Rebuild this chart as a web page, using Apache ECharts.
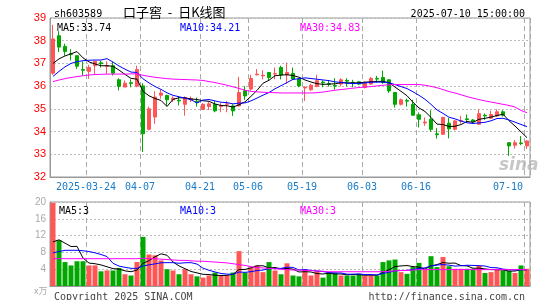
<!DOCTYPE html>
<html><head><meta charset="utf-8">
<script src="https://cdn.jsdelivr.net/npm/echarts/dist/echarts.min.js"></script>
<style>html,body{margin:0;padding:0;background:#fff}#c{width:545px;height:300px}</style>
</head><body><div id="c"></div>
<script>
const dates = ['2025-03-14','2025-03-17','2025-03-18','2025-03-19','2025-03-20','2025-03-21','2025-03-24','2025-03-25','2025-03-26','2025-03-27','2025-03-28','2025-03-31','2025-04-01','2025-04-02','2025-04-03','2025-04-07','2025-04-08','2025-04-09','2025-04-10','2025-04-11','2025-04-14','2025-04-15','2025-04-16','2025-04-17','2025-04-18','2025-04-21','2025-04-22','2025-04-23','2025-04-24','2025-04-25','2025-04-28','2025-04-29','2025-04-30','2025-05-06','2025-05-07','2025-05-08','2025-05-09','2025-05-12','2025-05-13','2025-05-14','2025-05-15','2025-05-16','2025-05-19','2025-05-20','2025-05-21','2025-05-22','2025-05-23','2025-05-26','2025-05-27','2025-05-28','2025-05-29','2025-05-30','2025-06-03','2025-06-04','2025-06-05','2025-06-06','2025-06-09','2025-06-10','2025-06-11','2025-06-12','2025-06-13','2025-06-16','2025-06-17','2025-06-18','2025-06-19','2025-06-20','2025-06-23','2025-06-24','2025-06-25','2025-06-26','2025-06-27','2025-06-30','2025-07-01','2025-07-02','2025-07-03','2025-07-04','2025-07-07','2025-07-08','2025-07-09','2025-07-10'];
const openP = [36.57,38.22,37.75,37.43,37.34,36.73,36.65,36.90,37.03,36.87,36.90,36.28,35.96,36.15,36.00,36.01,34.10,34.64,35.60,35.59,35.40,35.38,35.20,35.40,35.33,34.97,35.10,35.20,35.10,35.20,35.13,35.13,35.80,35.87,36.50,36.45,36.60,36.53,36.82,36.50,36.56,36.31,35.92,35.84,35.99,36.18,36.11,36.03,36.09,36.25,36.17,36.19,35.94,36.09,36.34,36.38,36.28,35.72,35.20,35.37,35.20,34.74,34.38,34.54,33.90,33.88,34.37,34.10,34.45,34.56,34.51,34.32,34.72,34.59,34.69,34.87,33.51,33.40,33.50,33.37];
const closeP = [38.08,37.72,37.53,37.40,36.88,36.70,36.82,37.09,36.99,36.90,36.57,35.99,36.13,36.12,36.73,33.90,35.00,35.52,35.70,35.40,35.47,35.35,35.50,35.45,35.29,35.20,35.22,34.91,35.13,35.22,34.91,35.72,35.57,36.34,36.53,36.48,36.38,36.56,36.49,36.60,36.31,36.01,35.95,36.04,36.24,36.15,36.08,36.00,36.28,36.22,36.14,36.09,36.16,36.34,36.31,36.16,35.79,35.20,35.40,35.34,34.72,34.54,34.42,34.10,33.86,34.62,34.12,34.47,34.48,34.53,34.43,34.79,34.69,34.75,34.87,34.72,33.37,33.51,33.47,33.59];
const lowP = [36.50,37.50,37.34,37.13,36.76,36.47,36.32,36.53,36.82,36.53,36.47,35.81,35.96,35.95,35.95,33.10,34.05,34.34,35.45,35.13,35.30,35.15,34.70,35.30,35.10,34.95,34.95,34.85,34.85,34.85,34.69,35.10,35.40,35.80,36.47,36.30,36.25,36.30,36.30,36.10,36.31,35.95,35.35,35.80,35.95,35.95,35.98,35.85,35.99,35.99,35.95,36.05,35.90,36.05,36.15,36.10,35.70,35.06,35.15,35.10,34.70,34.18,34.25,33.99,33.69,33.85,33.70,34.05,34.35,34.40,34.40,34.30,34.52,34.55,34.65,34.66,32.93,33.25,33.40,33.23];
const highP = [38.70,38.42,37.87,37.63,37.36,37.09,36.94,37.12,37.12,37.09,37.06,36.35,36.25,36.30,36.90,36.13,35.10,35.77,35.85,35.62,35.55,35.55,35.55,35.55,35.50,35.25,35.30,35.35,35.25,35.35,35.20,36.41,36.00,36.50,36.75,36.70,36.63,36.82,36.90,37.04,36.82,36.35,36.00,36.10,36.50,36.25,36.25,36.35,36.35,36.35,36.28,36.22,36.20,36.40,36.45,36.68,36.30,35.72,35.45,35.45,35.40,34.84,34.62,34.94,34.15,34.65,34.60,34.50,34.69,34.76,34.55,34.98,34.80,34.92,34.98,34.94,33.51,33.63,33.80,33.60];
const volume = [19.8,10.9,5.7,4.9,5.9,5.9,4.9,4.9,3.5,3.7,3.7,4.3,2.8,2.5,5.7,11.7,7.5,7.3,6.1,4.0,3.7,2.8,4.0,2.8,2.3,2.0,2.5,3.2,2.5,2.5,3.2,8.3,3.2,4.4,4.9,3.3,5.7,3.7,2.8,5.4,2.5,2.3,4.0,2.5,3.5,2.0,3.2,3.1,2.5,2.5,2.5,2.9,2.5,2.5,2.5,5.7,6.1,6.3,3.3,2.9,4.5,5.5,3.9,7.1,4.5,6.9,4.7,4.1,4.1,4.1,4.1,4.9,3.1,3.3,4.1,3.7,3.6,3.1,4.9,4.1];
const ma5Head = [37.00,37.20,37.33,37.42];
const ma10Head = [36.43,36.65,36.85,37.00,37.08,37.12,37.14,37.15,37.15];
const ma30 = [36.20,36.27,36.33,36.38,36.42,36.46,36.49,36.51,36.52,36.53,36.53,36.53,36.53,36.54,36.54,36.48,36.43,36.39,36.36,36.33,36.31,36.30,36.29,36.28,36.27,36.25,36.20,36.16,36.10,36.04,35.97,35.90,35.82,35.77,35.75,35.73,35.72,35.71,35.70,35.70,35.70,35.70,35.70,35.70,35.71,35.74,35.78,35.82,35.85,35.88,35.91,35.94,35.96,35.98,36.01,36.04,36.06,36.07,36.07,36.07,36.07,36.07,36.04,35.99,35.93,35.85,35.76,35.70,35.62,35.54,35.47,35.41,35.35,35.30,35.25,35.20,35.15,35.08,34.93,34.83];
const volMa5Head = [10.5,11.0,10.2,9.4];
const volMa10Head = [7.9,8.2,8.5,8.5,8.5,8.4,8.2,7.9,7.5];
const volMa30 = [6.5,6.5,6.5,6.5,6.5,6.5,6.5,6.5,6.5,6.5,6.5,6.5,6.5,6.5,6.5,6.6,6.5,6.5,6.4,6.3,6.2,6.1,6.1,6.0,5.9,5.9,5.8,5.7,5.6,5.5,5.3,5.1,4.9,4.6,4.4,4.3,4.2,4.1,4.0,3.9,3.8,3.8,3.7,3.7,3.6,3.5,3.4,3.4,3.4,3.4,3.4,3.4,3.4,3.4,3.4,3.4,3.5,3.6,3.7,3.7,3.8,3.9,3.9,3.9,3.9,3.9,3.9,3.9,3.9,3.9,3.9,3.9,3.9,3.9,3.9,3.9,3.9,3.9,3.9,3.9];
const labelDates = ['2025-03-24','2025-04-07','2025-04-21','2025-05-06','2025-05-19','2025-06-03','2025-06-16','2025-07-10'];
const priceAxis = {min: 32, max: 39, step: 1};
const volAxis = {min: 0, max: 20, step: 4};

function movingAvg(src, n, head) {
  return src.map((v, i) => {
    if (i < head.length) return head[i];
    let s = 0;
    for (let k = i - n + 1; k <= i; k++) s += src[k];
    return +(s / n).toFixed(3);
  });
}
const UP = '#ff5555', DOWN = '#00a800';
const mono = 'DejaVu Sans Mono';
const isLabel = (idx) => labelDates.indexOf(dates[idx]) >= 0;
const kData = dates.map((d, i) => [openP[i], closeP[i], lowP[i], highP[i]]);
const volData = volume.map((v, i) => ({value: v, itemStyle: {color: closeP[i] >= openP[i] ? UP : DOWN}}));

const chart = echarts.init(document.getElementById('c'), null, {renderer: 'canvas'});
const ts = (color, extra) => Object.assign({fontFamily: mono, fontSize: 10, fontWeight: 'normal', color: color}, extra || {});
const dashV = {show: true, interval: (i) => isLabel(i), lineStyle: {color: '#aaa', type: [5, 3], width: 1}};
const dotH = {show: true, lineStyle: {color: '#bbb', type: [2, 2], width: 1}};
chart.setOption({
  animation: false,
  backgroundColor: '#fff',
  title: [
    {text: 'sh603589', left: 49, top: 4, textStyle: ts('#000')},
    {text: '口子窖  -  日K线图', left: 118, top: 1, textStyle: ts('#000', {fontFamily: 'Noto Sans CJK SC', fontSize: 13})},
    {text: '2025-07-10 15:00:00', right: 15, top: 4, textStyle: ts('#000')},
    {text: 'MA5:33.74', left: 52, top: 18, textStyle: ts('#000')},
    {text: 'MA10:34.21', left: 175, top: 18, textStyle: ts('#0000ff')},
    {text: 'MA30:34.83', left: 295, top: 18, textStyle: ts('#ff00ff')},
    {text: 'MA5:3', left: 54, top: 201, textStyle: ts('#000')},
    {text: 'MA10:3', left: 175, top: 201, textStyle: ts('#0000ff')},
    {text: 'MA30:3', left: 295, top: 201, textStyle: ts('#ff00ff')},
    {text: 'x万', left: 29, top: 281, textStyle: ts('#aaa', {fontFamily: 'Noto Sans CJK SC', fontSize: 9})},
    {text: 'Copyright 2025 SINA.COM', left: 49, top: 287, textStyle: ts('#444')},
    {text: 'http://finance.sina.com.cn', right: 15, top: 287, textStyle: ts('#444')},
    {text: 'sina', left: 494, top: 152, textStyle: ts('rgba(180,180,180,0.75)', {fontFamily: 'DejaVu Sans', fontSize: 17, fontStyle: 'italic', fontWeight: 'bold'})}
  ],
  grid: [
    {left: 50, top: 18, width: 480, height: 159, show: true, borderColor: '#999', borderWidth: 1, backgroundColor: 'transparent'},
    {left: 50, top: 202, width: 480, height: 84, show: true, borderColor: '#999', borderWidth: 1, backgroundColor: 'transparent'}
  ],
  xAxis: [
    {gridIndex: 0, type: 'category', data: dates, boundaryGap: true,
     axisLine: {lineStyle: {color: '#999'}}, axisTick: {show: false},
     axisLabel: {interval: (i) => isLabel(i), margin: 5, color: '#1a7dc8', fontFamily: mono, fontSize: 10,
       formatter: (v) => {
         const s = v === labelDates[0] ? v : v.slice(5);
         return v === labelDates[labelDates.length - 1] ? '{e|' + s + '}' : '{n|' + s + '}';
       },
       rich: {n: {padding: [0, 6, 0, 0], color: '#1a7dc8', fontFamily: mono, fontSize: 10},
              e: {padding: [0, 38, 0, 0], color: '#1a7dc8', fontFamily: mono, fontSize: 10}}},
     splitLine: dashV},
    {gridIndex: 1, type: 'category', data: dates, boundaryGap: true,
     axisLine: {lineStyle: {color: '#999'}}, axisTick: {show: false}, axisLabel: {show: false},
     splitLine: dashV}
  ],
  yAxis: [
    {gridIndex: 0, type: 'value', min: priceAxis.min, max: priceAxis.max, interval: priceAxis.step,
     axisLine: {show: true, lineStyle: {color: '#999'}}, axisTick: {show: false},
     axisLabel: {color: '#ff0000', fontFamily: 'Liberation Sans', fontSize: 11, margin: 4},
     splitLine: dotH},
    {gridIndex: 1, type: 'value', min: volAxis.min, max: volAxis.max, interval: volAxis.step,
     axisLine: {show: true, lineStyle: {color: '#999'}}, axisTick: {show: false},
     axisLabel: {color: '#aaa', fontFamily: 'Liberation Sans', fontSize: 10, margin: 4, formatter: (v) => v === 0 ? '' : String(v)},
     splitLine: dotH}
  ],
  series: [
    {type: 'candlestick', xAxisIndex: 0, yAxisIndex: 0, data: kData, barWidth: 4,
     itemStyle: {color: UP, color0: DOWN, borderColor: UP, borderColor0: DOWN, borderWidth: 1}},
    {type: 'line', xAxisIndex: 0, yAxisIndex: 0, data: movingAvg(closeP, 5, ma5Head), symbol: 'none', lineStyle: {color: '#000', width: 1}},
    {type: 'line', xAxisIndex: 0, yAxisIndex: 0, data: movingAvg(closeP, 10, ma10Head), symbol: 'none', lineStyle: {color: '#0000ff', width: 1}},
    {type: 'line', xAxisIndex: 0, yAxisIndex: 0, data: ma30, symbol: 'none', lineStyle: {color: '#ff00ff', width: 1}},
    {type: 'bar', xAxisIndex: 1, yAxisIndex: 1, data: volData, barWidth: 5},
    {type: 'line', xAxisIndex: 1, yAxisIndex: 1, data: movingAvg(volume, 5, volMa5Head), symbol: 'none', lineStyle: {color: '#000', width: 1}},
    {type: 'line', xAxisIndex: 1, yAxisIndex: 1, data: movingAvg(volume, 10, volMa10Head), symbol: 'none', lineStyle: {color: '#0000ff', width: 1}},
    {type: 'line', xAxisIndex: 1, yAxisIndex: 1, data: volMa30, symbol: 'none', lineStyle: {color: '#ff00ff', width: 1}}
  ]
});
</script></body></html>
